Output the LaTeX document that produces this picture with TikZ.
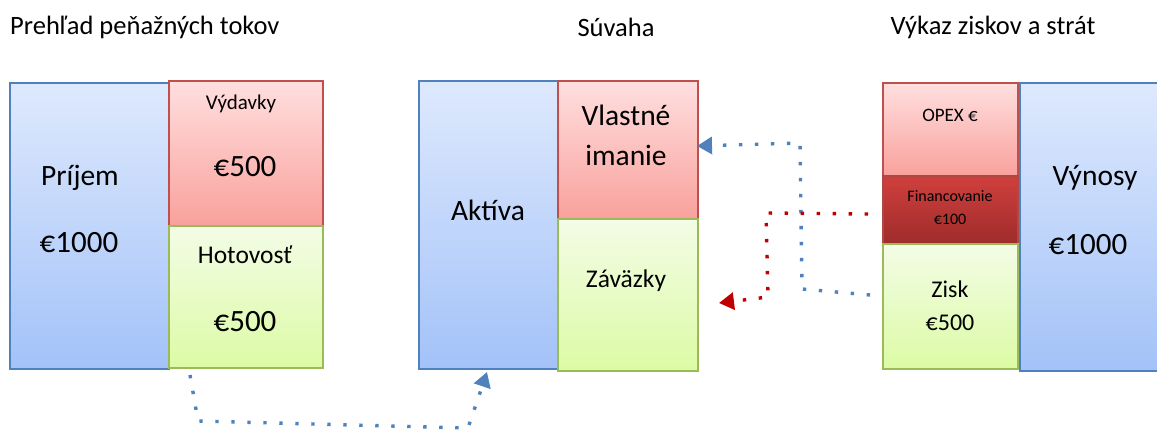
\documentclass[tikz,border=0pt]{standalone}
\usepackage{fontspec}
\setmainfont{Carlito}
\usetikzlibrary{arrows.meta}
\definecolor{bborder}{HTML}{4F81BD}
\definecolor{btop}{HTML}{DEE9FD}
\definecolor{bbot}{HTML}{A3C2F8}
\definecolor{rborder}{HTML}{C0504D}
\definecolor{rtop}{HTML}{FFDFDF}
\definecolor{rbot}{HTML}{F9A19C}
\definecolor{gborder}{HTML}{9BBB59}
\definecolor{gtop}{HTML}{F3FCE6}
\definecolor{gbot}{HTML}{DCFBA5}
\definecolor{dtop}{HTML}{D0403D}
\definecolor{dbot}{HTML}{9E2C2B}
\definecolor{dotred}{HTML}{C00000}
\tikzset{
  box/.style={draw, line width=1.6pt, anchor=north west, inner sep=0pt},
  bluebox/.style={box, draw=bborder, top color=btop, bottom color=bbot},
  redbox/.style={box, draw=rborder, top color=rtop, bottom color=rbot},
  greenbox/.style={box, draw=gborder, top color=gtop, bottom color=gbot},
  darkbox/.style={box, draw=rborder!90!black, top color=dtop, bottom color=dbot},
  title/.style={font=\fontsize{26.5}{30}\selectfont, inner sep=0pt},
  big/.style={font=\fontsize{29.5}{34}\selectfont, inner sep=0pt},
  num/.style={font=\fontsize{31}{36}\selectfont, inner sep=0pt},
  mid/.style={font=\fontsize{25.5}{30}\selectfont, inner sep=0pt},
  zsize/.style={font=\fontsize{24}{28}\selectfont, inner sep=0pt},
  small/.style={font=\fontsize{21}{25}\selectfont, inner sep=0pt},
  opex/.style={font=\fontsize{19}{22}\selectfont, inner sep=0pt},
  tiny/.style={font=\fontsize{16}{19}\selectfont, inner sep=0pt},
  flow/.style={line width=3.4pt, dash pattern=on 3.4pt off 12.6pt, -{Triangle[width=17pt,length=15pt]}},
}
\begin{document}
\begin{tikzpicture}[x=1pt,y=-1pt]
\useasboundingbox (0,0) rectangle (1157,430);
% titles
\node[title, anchor=west] (t1) at (10,27) {Prehľad peňažných tokov};
\node[title] (t2) at (616,27) {Súvaha};
\node[title] (t3) at (993,27) {Výkaz ziskov a strát};
% left group
\node[bluebox, minimum width=159pt, minimum height=286pt] (prijem) at (9,82) {};
\node[redbox, minimum width=154pt, minimum height=145pt] (vydavky) at (168,80) {};
\node[greenbox, minimum width=154pt, minimum height=142pt] (hotovost) at (168,225) {};
\node[big] (l1) at (80,178) {Príjem};
\node[num] (l2) at (79,243) {€1000};
\node[small] (l3) at (241,104) {Výdavky};
\node[num] (l4) at (245,167) {€500};
\node[mid] (l5) at (245,255) {Hotovosť};
\node[num] (l6) at (245,322) {€500};
% middle group
\node[bluebox, minimum width=139pt, minimum height=288pt] (aktiva) at (418,80) {};
\node[redbox, minimum width=140pt, minimum height=138pt] (imanie) at (557,80) {};
\node[greenbox, minimum width=140pt, minimum height=152pt] (zavazky) at (557,218) {};
\node[big] (m1) at (488,210) {Aktíva};
\node[big] (m2) at (626,115) {Vlastné};
\node[big] (m3) at (626,155) {imanie};
\node[mid] (m4) at (626,281) {Záväzky};
% right group
\node[redbox, minimum width=135pt, minimum height=93pt] (opex) at (882,82) {};
\node[darkbox, minimum width=135pt, minimum height=68pt] (fin) at (882,175) {};
\node[greenbox, minimum width=135pt, minimum height=125pt] (zisk) at (882,243) {};
\node[bluebox, minimum width=145pt, minimum height=288pt] (vynosy) at (1019,82) {};
\node[opex] (r1) at (950,115) {OPEX €};
\node[tiny] (r2) at (950,196) {Financovanie};
\node[tiny] (r3) at (950,219) {€100};
\node[zsize] (r4) at (950,289) {Zisk};
\node[zsize] (r5) at (950,323) {€500};
\node[big] (r6) at (1095,178) {Výnosy};
\node[num] (r7) at (1088,245) {€1000};
% connector endpoints
\coordinate (a1) at (190,375);
\coordinate (a2) at (198,421);
\coordinate (a3) at (468,428);
\coordinate (a4) at (487,372);
\coordinate (b1) at (870,295);
\coordinate (b2) at (802,289);
\coordinate (b3) at (800,143);
\coordinate (b4) at (697,146);
\coordinate (c1) at (868,214);
\coordinate (c2) at (766,213);
\coordinate (c3) at (768,297);
\coordinate (c4) at (719,303);
\draw[flow, color=bborder] (a1) -- (a2) -- (a3) -- (a4);
\draw[flow, color=bborder] (b1) -- (b2) -- (b3) -- (b4);
\draw[flow, color=dotred] (c1) -- (c2) -- (c3) -- (c4);
\end{tikzpicture}
\end{document}
